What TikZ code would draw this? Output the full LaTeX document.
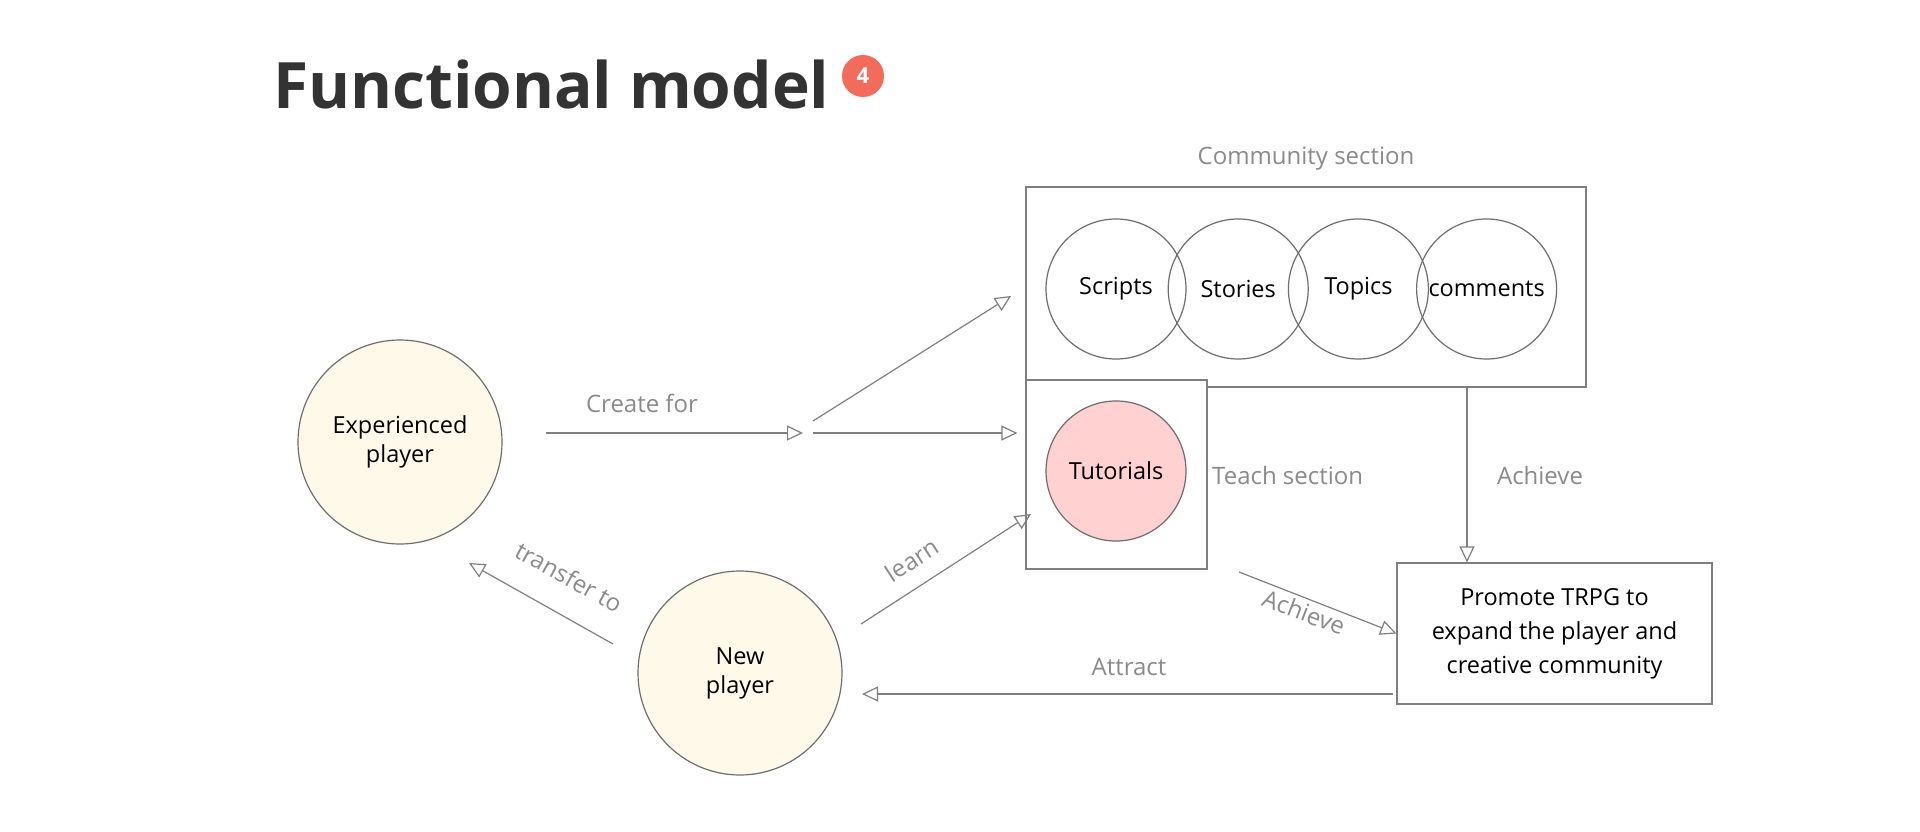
\documentclass[tikz,border=0pt]{standalone}
\usepackage{fontspec}
\setmainfont{Open Sans}
\usetikzlibrary{arrows.meta,positioning}
\definecolor{linegrey}{HTML}{7F7F7F}
\definecolor{ringgrey}{HTML}{6E6E6E}
\definecolor{labelgrey}{HTML}{8A8A8A}
\definecolor{titlegrey}{HTML}{333333}
\definecolor{creamfill}{HTML}{FFF9E9}
\definecolor{pinkfill}{HTML}{FFD1D1}
\definecolor{badgered}{HTML}{F26B5B}
\tikzset{
  player/.style={circle,draw=ringgrey,line width=1.2pt,fill=creamfill,minimum size=204pt,inner sep=0pt,align=center,font=\fontsize{23.5}{29}\selectfont},
  topic/.style={circle,draw=ringgrey,line width=1.2pt,minimum size=140pt,inner sep=0pt,font=\fontsize{23.5}{28}\selectfont},
  sectionbox/.style={rectangle,draw=linegrey,line width=1.2pt,fill=white,inner sep=0pt},
  flow/.style={draw=linegrey,line width=1.2pt,-{Triangle[open,length=16pt,width=15pt]}},
  edgelabel/.style={text=labelgrey,font=\fontsize{24}{28}\selectfont,inner sep=0pt},
}

\begin{document}
\begin{tikzpicture}[x=1pt,y=-1pt]
\useasboundingbox (0,0) rectangle (1920,832);

% title
\node[anchor=base west,text=titlegrey,font=\fontsize{64}{72}\selectfont\bfseries,inner sep=0pt] (title) at (273,109) {Functional model};
\node[circle,fill=badgered,minimum size=42pt,inner sep=0pt,text=white,font=\fontsize{22}{22}\selectfont\bfseries] (badge) at (863,76) {4};

% players
\node[player] (exp) at (400,442) {Experienced\\player};
\node[player] (new) at (740,673) {New\\player};

% sections
\node[sectionbox,minimum width=560pt,minimum height=200pt] (community) at (1306,287) {};
\node[edgelabel,above=16pt of community] (commlabel) {Community section};
\node[topic] (scripts) at (1116,289) {Scripts};
\node[topic,right=-19pt of scripts] (stories) {Stories};
\node[topic,right=-21pt of stories] (topics) {Topics};
\node[topic,right=-13pt of topics] (comments) {comments};

\node[sectionbox,minimum width=181pt,minimum height=189pt] (teach) at (1116.5,474.5) {};
\node[topic,fill=pinkfill] (tutorials) at (1116,471) {Tutorials};
\node[edgelabel,anchor=west] (teachlabel) at (1212,475) {Teach section};

\node[sectionbox,minimum width=315pt,minimum height=141pt,align=center,font=\fontsize{23.5}{34}\selectfont] (promote) at (1554.5,633.5) {Promote TRPG to\\expand the player and\\creative community};

% free ends
\coordinate (cfstart) at (546,433);
\coordinate (forkin) at (803,433);
\coordinate (forkout) at (813,433);
\coordinate (forkup) at (813,421);
\coordinate (commtip) at (1011,296);
\coordinate (learnstart) at (861,624);
\coordinate (learntip) at (1031,514);
\coordinate (transstart) at (613,644);
\coordinate (transtip) at (469,563);
\coordinate (achtop) at (1467,387);
\coordinate (achstart) at (1239,572);
\coordinate (attstart) at (1393,694);
\coordinate (atttip) at (862,694);

% connectors
\draw[flow] (cfstart) -- (forkin);
\draw[flow,shorten >=8pt] (forkout) -- (forkout -| teach.west);
\draw[flow] (forkup) -- (commtip);
\draw[flow] (learnstart) -- (learntip);
\draw[flow] (transstart) -- (transtip);
\draw[flow] (achtop) -- (achtop |- promote.north);
\draw[flow] (achstart) -- (promote.west);
\draw[flow] (attstart) -- (atttip);

% labels
\node[edgelabel] (cflabel) at (642,403) {Create for};
\node[edgelabel] (achlabel) at (1540,475) {Achieve};
\node[edgelabel,rotate=-21] (ach2label) at (1304,612) {Achieve};
\node[edgelabel] (attlabel) at (1129,667) {Attract};
\node[edgelabel,rotate=33] (learnlabel) at (912,560) {learn};
\node[edgelabel,rotate=-29] (translabel) at (569,577) {transfer to};

\end{tikzpicture}
\end{document}
